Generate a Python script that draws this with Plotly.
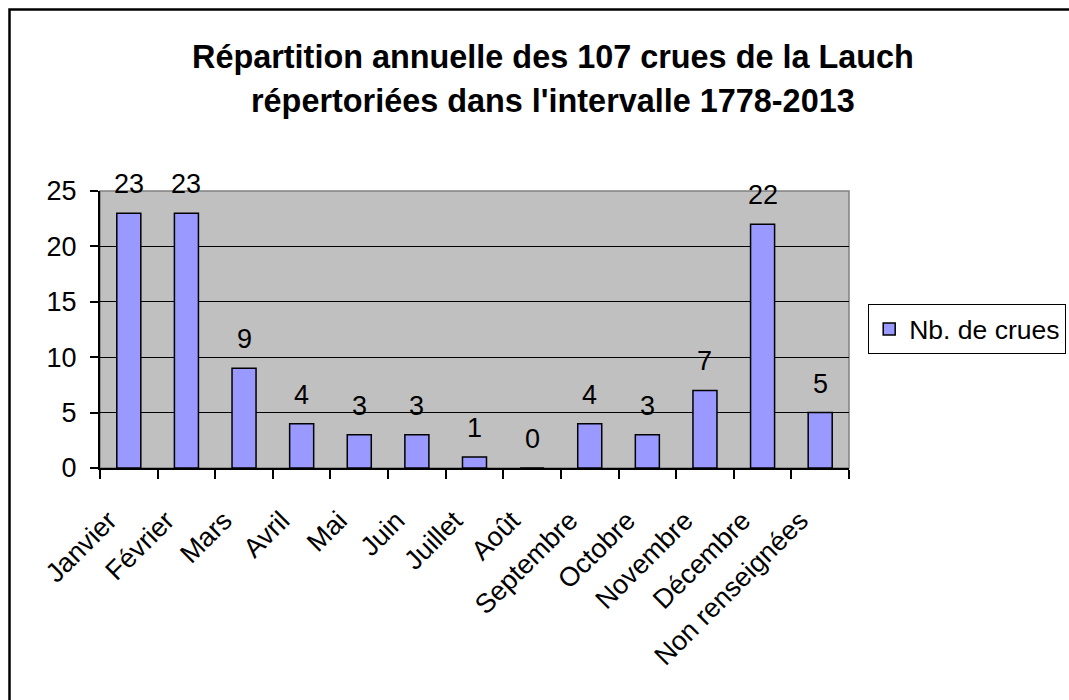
import plotly.graph_objects as go

categories = ["Janvier", "Février", "Mars", "Avril", "Mai", "Juin", "Juillet",
              "Août", "Septembre", "Octobre", "Novembre", "Décembre", "Non renseignées"]
values = [23, 23, 9, 4, 3, 3, 1, 0, 4, 3, 7, 22, 5]
series_name = "Nb. de crues"
title_lines = ["Répartition annuelle des 107 crues de la Lauch",
               "répertoriées dans l'intervalle 1778-2013"]
y_ticks = [0, 5, 10, 15, 20, 25]

W, H = 1069, 700
L, T = 100, 191
R = W - 849
B = H - 468
PW, PH = W - L - R, H - T - B

def px_x(px):
    return (px - L) / PW

def px_y(py):
    return (H - B - py) / PH

def cx(px):
    return px / W

def cy(py):
    return (H - py) / H

FONT = "Liberation Sans, Arial, sans-serif"

fig = go.Figure()
fig.add_trace(go.Bar(
    x=categories, y=values, name=series_name,
    marker=dict(color="#9999FF", line=dict(color="black", width=1.5)),
    showlegend=True, hoverinfo="x+y",
))

annotations = []
for c, v in zip(categories, values):
    annotations.append(dict(x=c, y=v, xref="x", yref="y", text=str(v), showarrow=False,
                            yanchor="middle", yshift=29,
                            font=dict(family=FONT, size=27, color="black")))
annotations.append(dict(x=px_x(553), y=px_y(57), xref="paper", yref="paper",
                        text="<b>" + title_lines[0] + "</b>", showarrow=False,
                        xanchor="center", yanchor="middle",
                        font=dict(family=FONT, size=32.4, color="black")))
annotations.append(dict(x=px_x(553), y=px_y(101), xref="paper", yref="paper",
                        text="<b>" + title_lines[1] + "</b>", showarrow=False,
                        xanchor="center", yanchor="middle",
                        font=dict(family=FONT, size=32.4, color="black")))

shapes = [
    dict(type="rect", xref="paper", yref="paper", x0=0, x1=1, y0=0, y1=1,
         line=dict(color="#808080", width=1.5), layer="below"),
    dict(type="rect", xref="paper", yref="paper",
         x0=px_x(9.5), x1=px_x(1090), y0=px_y(720), y1=px_y(9.5),
         line=dict(color="black", width=2.5), layer="above"),
]

fig.update_layout(
    width=W, height=H,
    margin=dict(l=L, r=R, t=T, b=B, pad=0, autoexpand=False),
    paper_bgcolor="white", plot_bgcolor="#C0C0C0",
    font=dict(family=FONT, size=27, color="black"),
    bargap=0.583,
    showlegend=True,
    legend=dict(xref="container", yref="container", x=cx(868), y=cy(304),
                xanchor="left", yanchor="top",
                bordercolor="black", borderwidth=1.2, bgcolor="white",
                font=dict(family=FONT, size=26.5, color="black"),
                itemwidth=30, tracegroupgap=0),
    annotations=annotations,
    shapes=shapes,
    xaxis=dict(type="category", tickangle=-45, ticks="outside", ticklen=9,
               tickwidth=1.5, tickcolor="black", tickson="boundaries",
               showline=True, linecolor="black", linewidth=2,
               showgrid=False, tickfont=dict(family=FONT, size=27, color="black"),
               ticklabelstandoff=24, ticklabelshift=-20,
               fixedrange=True, automargin=False),
    yaxis=dict(range=[0, 25], tickvals=y_ticks, ticktext=[str(t) for t in y_ticks],
               ticks="outside", ticklen=8, tickwidth=1.5, tickcolor="black",
               showline=True, linecolor="black", linewidth=2,
               showgrid=True, gridcolor="black", gridwidth=1.2,
               zeroline=False, ticklabelstandoff=8,
               tickfont=dict(family=FONT, size=27, color="black"),
               fixedrange=True, automargin=False),
)

fig.write_html("out.html", config={"displayModeBar": False},
               post_script="document.body.style.margin='0';document.body.style.overflow='hidden';")
